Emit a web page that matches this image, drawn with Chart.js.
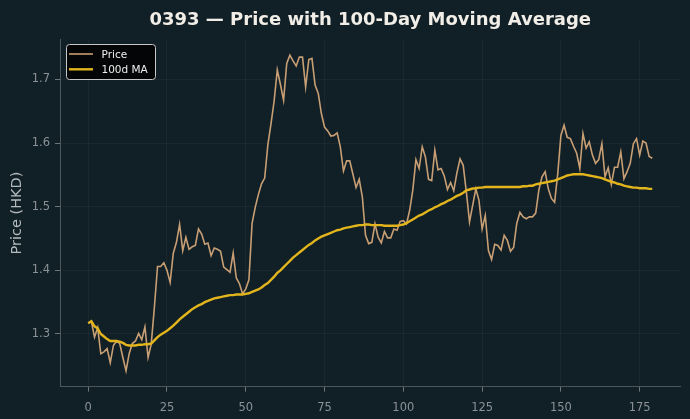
<!DOCTYPE html>
<html>
<head>
<meta charset="utf-8">
<script src="https://cdn.jsdelivr.net/npm/chart.js@4.4.1/dist/chart.umd.min.js"></script>
<style>
  html, body { margin: 0; padding: 0; background: #111f26; }
  #wrap { width: 690px; height: 419px; position: relative; }
</style>
</head>
<body>
<div id="wrap"><canvas id="c" width="690" height="419"></canvas></div>
<script>
// ---- data ----
const titleText = '0393 \u2014 Price with 100-Day Moving Average';
const yAxisTitle = 'Price (HKD)';
const seriesNames = ['Price', '100d MA'];
const xTicks = [0, 25, 50, 75, 100, 125, 150, 175];
const yTicks = [1.3, 1.4, 1.5, 1.6, 1.7];

const price = [
  1.317, 1.320, 1.295, 1.310, 1.269, 1.272, 1.277, 1.255, 1.282, 1.289,
  1.285, 1.263, 1.242, 1.269, 1.285, 1.289, 1.301, 1.291, 1.311, 1.263,
  1.284, 1.342, 1.406, 1.406, 1.412, 1.400, 1.381, 1.427, 1.444, 1.472,
  1.431, 1.452, 1.433, 1.437, 1.439, 1.465, 1.457, 1.441, 1.443, 1.423,
  1.435, 1.433, 1.430, 1.405, 1.401, 1.397, 1.427, 1.388, 1.379, 1.363,
  1.371, 1.385, 1.474, 1.499, 1.519, 1.536, 1.545, 1.597, 1.630, 1.666,
  1.715, 1.692, 1.667, 1.725, 1.738, 1.729, 1.721, 1.735, 1.735, 1.688,
  1.731, 1.733, 1.691, 1.678, 1.646, 1.625, 1.619, 1.611, 1.612, 1.616,
  1.594, 1.556, 1.572, 1.572, 1.551, 1.530, 1.543, 1.515, 1.455, 1.442,
  1.444, 1.473, 1.452, 1.443, 1.461, 1.451, 1.451, 1.465, 1.463, 1.477,
  1.478, 1.473, 1.494, 1.526, 1.574, 1.560, 1.594, 1.578, 1.543, 1.541,
  1.589, 1.558, 1.560, 1.548, 1.527, 1.538, 1.525, 1.553, 1.575, 1.565,
  1.523, 1.476, 1.502, 1.528, 1.510, 1.465, 1.486, 1.431, 1.417, 1.441,
  1.439, 1.432, 1.455, 1.447, 1.430, 1.436, 1.474, 1.491, 1.484, 1.481,
  1.484, 1.484, 1.490, 1.526, 1.547, 1.555, 1.528, 1.513, 1.507, 1.552,
  1.612, 1.628, 1.609, 1.607, 1.595, 1.584, 1.560, 1.615, 1.592, 1.602,
  1.581, 1.568, 1.574, 1.599, 1.547, 1.561, 1.535, 1.562, 1.562, 1.586,
  1.544, 1.555, 1.568, 1.599, 1.607, 1.581, 1.603, 1.600, 1.579, 1.576
];

const ma100 = [
  1.317, 1.320, 1.312, 1.309, 1.300, 1.296, 1.292, 1.289, 1.289, 1.289,
  1.288, 1.286, 1.283, 1.282, 1.282, 1.282, 1.283, 1.283, 1.284, 1.284,
  1.285, 1.290, 1.295, 1.299, 1.302, 1.305, 1.309, 1.313, 1.318, 1.323,
  1.327, 1.331, 1.335, 1.339, 1.342, 1.345, 1.347, 1.350, 1.352, 1.354,
  1.356, 1.357, 1.358, 1.359, 1.360, 1.361, 1.361, 1.362, 1.362, 1.362,
  1.363, 1.364, 1.366, 1.368, 1.370, 1.373, 1.377, 1.380, 1.385, 1.390,
  1.396, 1.400, 1.405, 1.410, 1.415, 1.420, 1.424, 1.428, 1.432, 1.436,
  1.440, 1.443, 1.447, 1.450, 1.453, 1.455, 1.457, 1.459, 1.461, 1.463,
  1.464, 1.466, 1.467, 1.468, 1.469, 1.470, 1.471, 1.471, 1.472, 1.472,
  1.471, 1.471, 1.471, 1.471, 1.470, 1.470, 1.470, 1.470, 1.470, 1.471,
  1.472, 1.474, 1.477, 1.480, 1.483, 1.486, 1.488, 1.491, 1.494, 1.496,
  1.499, 1.501, 1.504, 1.506, 1.509, 1.511, 1.514, 1.517, 1.519, 1.522,
  1.5255, 1.527, 1.5285, 1.529, 1.530, 1.530, 1.531, 1.531, 1.531, 1.531,
  1.531, 1.531, 1.531, 1.531, 1.531, 1.531, 1.531, 1.531, 1.532, 1.532,
  1.533, 1.533, 1.535, 1.536, 1.537, 1.538, 1.539, 1.540, 1.541, 1.543,
  1.545, 1.547, 1.549, 1.550, 1.551, 1.551, 1.551, 1.551, 1.550, 1.549,
  1.548, 1.547, 1.546, 1.545, 1.543, 1.541, 1.539, 1.538, 1.536, 1.535,
  1.533, 1.532, 1.531, 1.530, 1.530, 1.529, 1.529, 1.529, 1.528, 1.528
];

const days = price.map((_, i) => i);

// ---- styling ----
const FONT = "'DejaVu Sans', sans-serif";
const PRICE_COLOR = '#c89f74';
const MA_COLOR = '#e3b51c';

Chart.defaults.font.family = FONT;

const deco = {
  id: 'deco',
  afterDraw(chart) {
    const { ctx, chartArea: a } = chart;
    ctx.save();
    // title
    ctx.font = "bold 18px " + FONT;
    ctx.fillStyle = '#f1ede7';
    ctx.textAlign = 'center';
    ctx.textBaseline = 'alphabetic';
    ctx.fillText(titleText, (a.left + a.right) / 2, 24.5);

    // legend box
    const x = 66.5, y = 44.5, w = 89, h = 35, r = 3;
    ctx.beginPath();
    ctx.moveTo(x + r, y);
    ctx.lineTo(x + w - r, y);
    ctx.arcTo(x + w, y, x + w, y + r, r);
    ctx.lineTo(x + w, y + h - r);
    ctx.arcTo(x + w, y + h, x + w - r, y + h, r);
    ctx.lineTo(x + r, y + h);
    ctx.arcTo(x, y + h, x, y + h - r, r);
    ctx.lineTo(x, y + r);
    ctx.arcTo(x, y, x + r, y, r);
    ctx.closePath();
    ctx.fillStyle = 'rgba(3,3,3,0.92)';
    ctx.fill();
    ctx.strokeStyle = '#c8c8c8';
    ctx.lineWidth = 1;
    ctx.stroke();

    const items = [
      { label: seriesNames[0], color: PRICE_COLOR, lw: 1.6, cy: 54 },
      { label: seriesNames[1], color: MA_COLOR, lw: 2.4, cy: 69.3 }
    ];
    ctx.font = "10.5px " + FONT;
    ctx.textAlign = 'left';
    items.forEach(it => {
      ctx.beginPath();
      ctx.moveTo(69, it.cy);
      ctx.lineTo(93, it.cy);
      ctx.strokeStyle = it.color;
      ctx.lineWidth = it.lw;
      ctx.stroke();
      ctx.fillStyle = '#eeeeee';
      ctx.fillText(it.label, 101.5, it.cy + 3.8);
    });
    ctx.restore();
  }
};

new Chart(document.getElementById('c'), {
  type: 'line',
  data: {
    datasets: [
      {
        label: seriesNames[0],
        data: days.map((d, i) => ({ x: d, y: price[i] })),
        borderColor: PRICE_COLOR,
        borderWidth: 1.6,
        pointRadius: 0,
        tension: 0,
        order: 2
      },
      {
        label: seriesNames[1],
        data: days.map((d, i) => ({ x: d, y: ma100[i] })),
        borderColor: MA_COLOR,
        borderWidth: 2.4,
        pointRadius: 0,
        tension: 0,
        order: 1
      }
    ]
  },
  options: {
    responsive: false,
    animation: false,
    devicePixelRatio: 1,
    layout: { padding: { top: 39.4, right: 9.5, left: 0, bottom: 0 } },
    plugins: {
      legend: { display: false },
      title: { display: false },
      tooltip: { enabled: false }
    },
    scales: {
      x: {
        type: 'linear',
        min: -8.95,
        max: 187.95,
        afterBuildTicks: s => { s.ticks = xTicks.map(v => ({ value: v })); },
        afterFit: s => { s.height = 32.3; },
        grid: { color: 'rgba(255,255,255,0.04)', tickColor: '#6d767b', tickLength: 5 },
        border: { color: '#4d575c', width: 1 },
        ticks: { color: '#8a9297', font: { size: 11.5 }, padding: 9, maxRotation: 0, callback: v => String(v) }
      },
      y: {
        type: 'linear',
        min: 1.2172,
        max: 1.7628,
        afterBuildTicks: s => { s.ticks = yTicks.map(v => ({ value: v })); },
        afterFit: s => { s.width = 60; },
        grid: { color: 'rgba(255,255,255,0.04)', tickColor: '#6d767b', tickLength: 5 },
        border: { color: '#4d575c', width: 1 },
        ticks: { color: '#8a9297', font: { size: 11.5 }, padding: 5, callback: v => Number(v).toFixed(1) },
        title: { display: true, text: yAxisTitle, color: '#b3babd', font: { size: 14.5 }, padding: { top: 8.2, bottom: 0 } }
      }
    }
  },
  plugins: [deco]
});
</script>
</body>
</html>
